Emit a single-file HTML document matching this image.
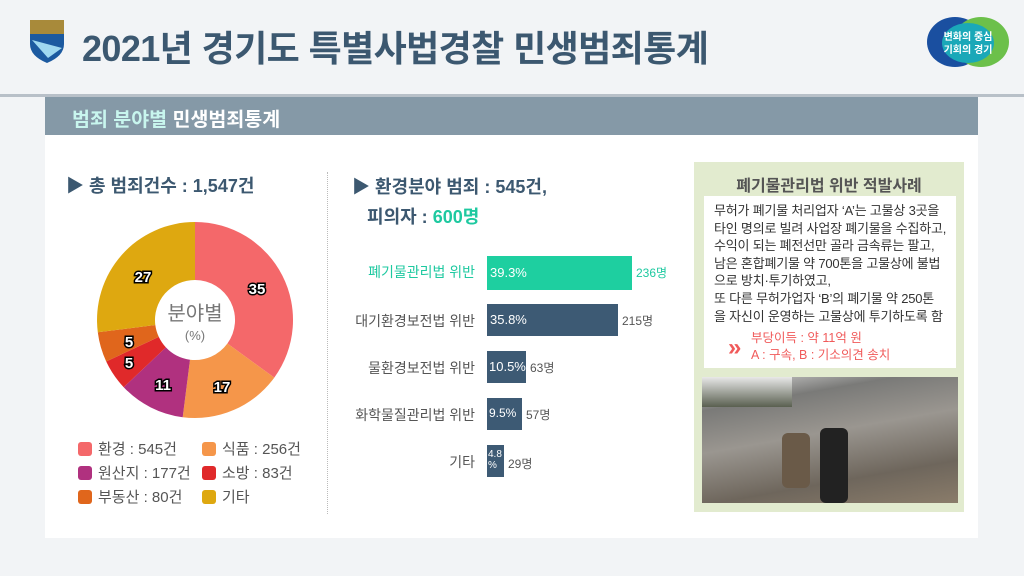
<!DOCTYPE html>
<html><head><meta charset="utf-8"><style>
*{margin:0;padding:0;box-sizing:border-box}
body{width:1024px;height:576px;background:#f2f4f6;position:relative;overflow:hidden;font-family:"Liberation Sans","Noto Sans CJK KR",sans-serif}
.a{position:absolute}
.t{font-weight:bold;color:#3c5870}
</style></head><body>
<div class="a" style="left:0;top:94px;width:1024px;height:3px;background:#b8c0c8"></div>
<svg class="a" style="left:28px;top:18px" width="40" height="46"><path d="M2 2 H36 V26 Q36 38 19 45 Q2 38 2 26Z" fill="#1c5aa0"/><path d="M2 2 H36 V16 H2Z" fill="#a88a3a"/><path d="M4 22 L34 30 L20 40Z" fill="#9fd8f0"/></svg>
<div class="a t" style="left:82px;top:20px;font-size:36px;letter-spacing:-0.6px">2021년 경기도 특별사법경찰 민생범죄통계</div>
<svg class="a" style="left:925px;top:16px" width="86" height="52"><ellipse cx="30" cy="26" rx="28" ry="25" fill="#1a4fa0"/><ellipse cx="56" cy="26" rx="28" ry="25" fill="#6cc04a"/><ellipse cx="43" cy="27" rx="26" ry="20" fill="#1aa8b8"/><text x="43" y="24" font-size="10" fill="#fff" text-anchor="middle" font-weight="bold">변화의 중심</text><text x="43" y="37" font-size="10" fill="#fff" text-anchor="middle" font-weight="bold">기회의 경기</text></svg>
<div class="a" style="left:45px;top:97px;width:933px;height:38px;background:#8599a7"></div>
<div class="a" style="left:72px;top:103px;font-size:19.5px;font-weight:bold;color:#fff"><span style="color:#c8f6ee">범죄 분야별</span> 민생범죄통계</div>
<div class="a" style="left:45px;top:135px;width:933px;height:403px;background:#fff"></div>
<div class="a t" style="left:66px;top:172px;font-size:18px">▶ 총 범죄건수 : 1,547건</div>
<svg class="a" style="left:90px;top:215px" width="210" height="210" viewBox="-105 -105 210 210">
<g stroke="none">
<path d="M0 -98 A98 98 0 0 1 79.3 57.6 L32.4 23.5 A40 40 0 0 0 0 -40Z" fill="#f4686a"/>
<path d="M79.3 57.6 A98 98 0 0 1 -12.3 97.2 L-5 39.7 A40 40 0 0 0 32.4 23.5Z" fill="#f5964a"/>
<path d="M-12.3 97.2 A98 98 0 0 1 -71.3 67.2 L-29.1 27.4 A40 40 0 0 0 -5 39.7Z" fill="#b0317f"/>
<path d="M-71.3 67.2 A98 98 0 0 1 -88.8 41.5 L-36.2 16.9 A40 40 0 0 0 -29.1 27.4Z" fill="#e0292a"/>
<path d="M-88.8 41.5 A98 98 0 0 1 -97.2 12.3 L-39.7 5 A40 40 0 0 0 -36.2 16.9Z" fill="#e0661c"/>
<path d="M-97.2 12.3 A98 98 0 0 1 0 -98 L0 -40 A40 40 0 0 0 -39.7 5Z" fill="#dea810"/>
</g>
<g font-size="15" font-weight="bold" fill="#fff" stroke="#000" stroke-width="3" paint-order="stroke" text-anchor="middle">
<text x="62" y="-26">35</text><text x="27" y="72">17</text><text x="-32" y="70">11</text><text x="-66" y="48">5</text><text x="-66" y="27">5</text><text x="-52" y="-38">27</text></g>
<text x="0" y="0" font-size="20" fill="#777" text-anchor="middle">분야별</text>
<text x="0" y="20" font-size="13" fill="#777" text-anchor="middle">(%)</text>
</svg>
<div class="a" style="left:78px;top:438px;font-size:15px;color:#555;line-height:24px">
<div><span style="display:inline-block;width:14px;height:14px;border-radius:3px;background:#f4686a;vertical-align:-2px;margin-right:6px"></span>환경 : 545건</div>
<div><span style="display:inline-block;width:14px;height:14px;border-radius:3px;background:#b0317f;vertical-align:-2px;margin-right:6px"></span>원산지 : 177건</div>
<div><span style="display:inline-block;width:14px;height:14px;border-radius:3px;background:#e0661c;vertical-align:-2px;margin-right:6px"></span>부동산 : 80건</div></div>
<div class="a" style="left:202px;top:438px;font-size:15px;color:#555;line-height:24px">
<div><span style="display:inline-block;width:14px;height:14px;border-radius:3px;background:#f5964a;vertical-align:-2px;margin-right:6px"></span>식품 : 256건</div>
<div><span style="display:inline-block;width:14px;height:14px;border-radius:3px;background:#e0292a;vertical-align:-2px;margin-right:6px"></span>소방 : 83건</div>
<div><span style="display:inline-block;width:14px;height:14px;border-radius:3px;background:#dea810;vertical-align:-2px;margin-right:6px"></span>기타</div></div>
<div class="a" style="left:327px;top:172px;height:342px;border-left:1px dotted #bbb"></div>
<div class="a t" style="left:352px;top:172px;font-size:18px;line-height:30px">▶ 환경분야 범죄 : 545건,<br>&nbsp;&nbsp;&nbsp;피의자 : <span style="color:#1ec9a0">600명</span></div>
<div class="a" style="left:300px;top:262px;width:175px;text-align:right;font-size:14px;color:#1ec9a0">폐기물관리법 위반</div>
<div class="a" style="left:300px;top:311px;width:175px;text-align:right;font-size:14px;color:#555">대기환경보전법 위반</div>
<div class="a" style="left:300px;top:358px;width:175px;text-align:right;font-size:14px;color:#555">물환경보전법 위반</div>
<div class="a" style="left:300px;top:405px;width:175px;text-align:right;font-size:14px;color:#555">화학물질관리법 위반</div>
<div class="a" style="left:300px;top:452px;width:175px;text-align:right;font-size:14px;color:#555">기타</div>
<div class="a" style="left:487px;top:256px;width:145px;height:34px;background:#1ecfa0;color:#fff;font-size:13px;padding:9px 3px">39.3%</div>
<div class="a" style="left:636px;top:264px;font-size:12px;color:#1ec9a0">236명</div>
<div class="a" style="left:487px;top:304px;width:131px;height:32px;background:#3d5a74;color:#fff;font-size:13px;padding:8px 3px">35.8%</div>
<div class="a" style="left:622px;top:312px;font-size:12px;color:#555">215명</div>
<div class="a" style="left:487px;top:351px;width:39px;height:32px;background:#3d5a74;color:#fff;font-size:13px;padding:8px 2px">10.5%</div>
<div class="a" style="left:530px;top:359px;font-size:12px;color:#555">63명</div>
<div class="a" style="left:487px;top:398px;width:35px;height:32px;background:#3d5a74;color:#fff;font-size:12px;padding:8px 2px">9.5%</div>
<div class="a" style="left:526px;top:406px;font-size:12px;color:#555">57명</div>
<div class="a" style="left:487px;top:445px;width:17px;height:32px;background:#3d5a74;color:#fff;font-size:10px;line-height:11px;padding:4px 1px">4.8<br>%</div>
<div class="a" style="left:508px;top:455px;font-size:12px;color:#555">29명</div>
<div class="a" style="left:694px;top:162px;width:270px;height:350px;background:#e2ebcf"></div>
<div class="a" style="left:694px;top:172px;width:270px;text-align:center;font-size:16px;font-weight:bold;color:#555">폐기물관리법 위반 적발사례</div>
<div class="a" style="left:704px;top:196px;width:252px;height:172px;background:#fff"></div>
<div class="a" style="left:714px;top:202px;font-size:13px;color:#333;line-height:17.6px;letter-spacing:-0.2px;white-space:nowrap">무허가 폐기물 처리업자 ‘A’는 고물상 3곳을<br>타인 명의로 빌려 사업장 폐기물을 수집하고,<br>수익이 되는 폐전선만 골라 금속류는 팔고,<br>남은 혼합폐기물 약 700톤을 고물상에 불법<br>으로 방치·투기하였고,<br>또 다른 무허가업자 ‘B’의 폐기물 약 250톤<br>을 자신이 운영하는 고물상에 투기하도록 함</div>
<div class="a" style="left:728px;top:334px;font-size:24px;color:#f05a5a;font-weight:bold">»</div>
<div class="a" style="left:751px;top:330px;font-size:12.5px;color:#f05a5a;line-height:17px">부당이득 : 약 11억 원<br>A : 구속, B : 기소의견 송치</div>
<div class="a" style="left:702px;top:377px;width:256px;height:126px;background:linear-gradient(170deg,#d8d8d8 0%,#7a7a78 20%,#9a9690 45%,#6e665c 75%,#8a7c6a 100%)"></div>
<div class="a" style="left:702px;top:377px;width:90px;height:30px;background:linear-gradient(#e8e8e8,#5a6050)"></div>
<div class="a" style="left:782px;top:433px;width:28px;height:55px;background:#6a5a48;border-radius:6px"></div>
<div class="a" style="left:820px;top:428px;width:28px;height:75px;background:#222;border-radius:6px"></div>
</body></html>
